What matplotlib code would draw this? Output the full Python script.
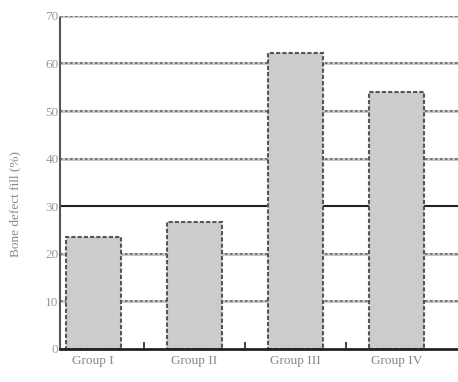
import matplotlib
matplotlib.use("Agg")
import matplotlib.pyplot as plt

categories = ["Group I", "Group II", "Group III", "Group IV"]
values = [23.5, 26.7, 62.3, 54.0]
yticks = [0, 10, 20, 30, 40, 50, 60, 70]

plt.rcParams['font.family'] = ['Liberation Serif', 'DejaVu Serif']

fig = plt.figure(figsize=(4.58, 3.82), dpi=100)
ax = fig.add_axes([0.131, 0.0864, 0.869, 0.872])

x = list(range(len(categories)))
ax.set_xlim(-0.33, 3.61)
ax.set_ylim(0, 70)

# grid lines
for t in yticks[1:]:
    if t == 30:
        ax.axhline(t, color='#222222', lw=1.5, zorder=1)
    else:
        ax.axhline(t, color='#c8c8c8', lw=2.2, zorder=1)
        ax.axhline(t, color='#666666', lw=1.2, ls=(0, (1.5, 1.5)), zorder=1.1)

ax.bar(x, values, width=0.55, color='#cccccc', edgecolor='#555555',
       linewidth=1.5, linestyle=(0, (2, 1)), zorder=2)

ax.axhline(0, color='#222222', lw=2, zorder=3, clip_on=False)

for s in ['top', 'right', 'bottom']:
    ax.spines[s].set_visible(False)
ax.spines['left'].set_color('#555555')
ax.spines['left'].set_linewidth(1.5)
ax.spines['left'].set_linestyle((0, (1.5, 1)))

ax.set_yticks(yticks)
ax.set_yticklabels([str(t) for t in yticks], color='#999999', fontsize=9.5)
ax.tick_params(axis='y', length=0, pad=1)

ax.set_xticks(x)
ax.set_xticklabels(categories, color='#888888', fontsize=9.5)
ax.tick_params(axis='x', length=0, pad=4)
ax.set_xticks([0.5, 1.5, 2.5], minor=True)
ax.tick_params(axis='x', which='minor', direction='in', length=5, width=1.2, color='#222222')

ax.set_ylabel("Bone defect fill (%)", color='#888888', fontsize=9.5)
ax.yaxis.set_label_coords(-0.097, 0.435)

fig.savefig("out.png", dpi=100)
